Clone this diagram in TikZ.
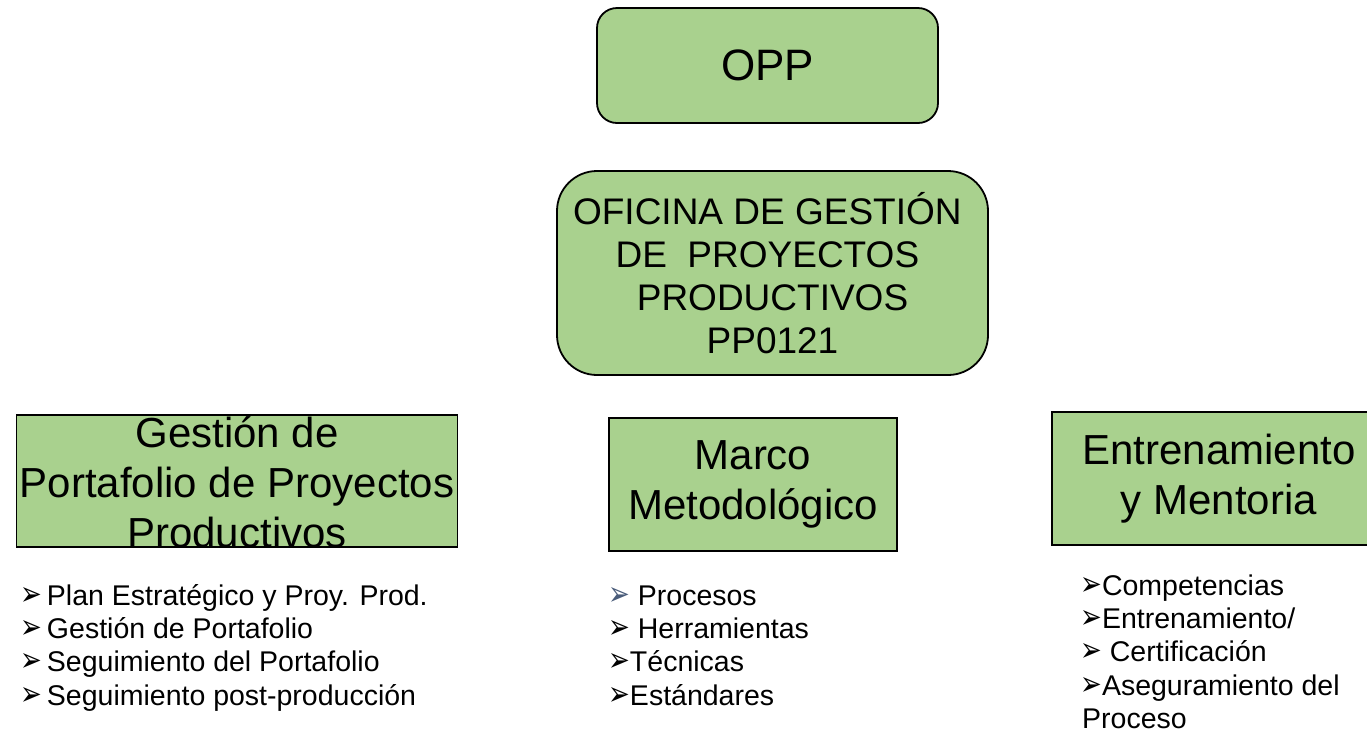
\documentclass[tikz,border=0pt]{standalone}
\usepackage{fontspec}
\setmainfont{Liberation Sans}
\newfontfamily\symfont{DejaVu Sans}
\definecolor{boxgreen}{HTML}{A9D18E}
\definecolor{bulletblue}{HTML}{4A5C7A}
\newcommand{\arrb}{{\symfont\fontsize{26}{26}\selectfont\scalebox{1}[1.3]{➢}}}
\newcommand{\liststrut}{\rule{0pt}{26pt}}

\begin{document}
\begin{tikzpicture}[x=1pt, y=-1pt,
    greenbox/.style={draw=black, line width=1.8pt, fill=boxgreen, align=center, inner sep=0pt},
    listtext/.style={anchor=north west, align=left, inner sep=0pt, font=\fontsize{28.5}{33.3}\selectfont}]
        \useasboundingbox (0,0) rectangle (1367,740);
        \clip (0,0) rectangle (1367,740);

        % top offices
        \node[greenbox, rounded corners=20, minimum width=341, minimum height=115, font=\fontsize{44}{44}\selectfont] (opp) at (767.5,65.5) {OPP};
        \node[greenbox, rounded corners=40, minimum width=431, minimum height=204, font=\fontsize{37}{43}\selectfont] (ogpp) at (772.5,273) {OFICINA DE GESTIÓN\hphantom{\ }\\DE\ \ PROYECTOS\hphantom{\ }\\PRODUCTIVOS\\PP0121};

        % three areas
        \node[greenbox, minimum width=441, minimum height=132] (gpp) at (237,481) {};
        \node[align=center, inner sep=0pt, font=\fontsize{42}{50}\selectfont] (gpptext) at (237,482) {Gestión de\\Portafolio de Proyectos\\Productivos};
        \node[greenbox, minimum width=288, minimum height=133, font=\fontsize{42}{50}\selectfont] (marco) at (753,484.5) {Marco\\Metodológico};
        \node[greenbox, minimum width=334, minimum height=133, font=\fontsize{42}{50}\selectfont] (entr) at (1219,478.5) {Entrenamiento\\y Mentoria};

        % lists
        \node[listtext] (listgpp) at (20,579) {\liststrut\arrb\hspace{5pt}Plan Estratégico y Proy. Prod.\\\arrb\hspace{5pt}Gestión de Portafolio\\\arrb\hspace{5pt}Seguimiento del Portafolio\\\arrb\hspace{5pt}Seguimiento post-producción};
        \node[listtext] (listmarco) at (608,579) {\liststrut{\color{bulletblue}\arrb}\ Procesos\\\arrb\ Herramientas\\\arrb Técnicas\\\arrb Estándares};
        \node[listtext] (listentr) at (1080,569) {\liststrut\arrb Competencias\\\arrb Entrenamiento/\\\arrb\ Certificación\\\arrb Aseguramiento del\\\hspace{2pt}Proceso};
\end{tikzpicture}
\end{document}
